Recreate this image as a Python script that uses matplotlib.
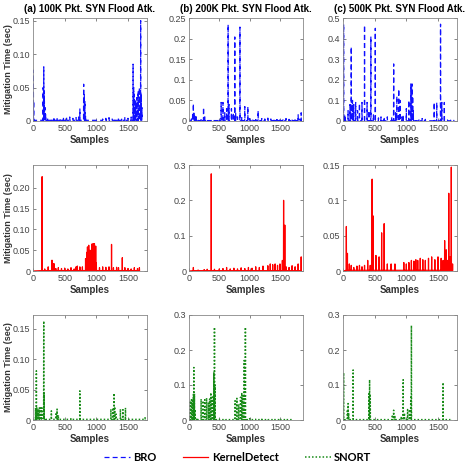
import numpy as np
import matplotlib
matplotlib.use("Agg")
import matplotlib.pyplot as plt
from matplotlib.ticker import FixedLocator

plt.rcParams['font.family'] = ['Liberation Sans', 'DejaVu Sans']

# ---- data: spike positions (samples) and heights (sec) ----
# row 1: BRO
bro_a_x = [5, 10, 160, 170, 175, 180, 190, 200, 230, 280, 330, 380, 430, 480, 530, 580, 630, 680, 720, 740,
           800, 810, 820, 830, 1100, 1150, 1200, 1250, 1300, 1350, 1400, 1450, 1500, 1550,
           1580, 1590, 1600, 1620, 1640, 1660, 1680, 1700, 1710, 1720]
bro_a_h = [0.076, 0.03, 0.05, 0.081, 0.045, 0.03, 0.02, 0.01, 0.005, 0.004, 0.006, 0.005, 0.004, 0.006, 0.005, 0.006, 0.004, 0.005, 0.006, 0.018,
           0.055, 0.04, 0.03, 0.008, 0.003, 0.004, 0.005, 0.003, 0.004, 0.005, 0.004, 0.005, 0.004, 0.006,
           0.085, 0.05, 0.04, 0.03, 0.035, 0.045, 0.05, 0.15, 0.04, 0.02]

bro_b_x = [40, 60, 72, 85, 100, 120, 150, 200, 240, 260, 300, 400, 500, 530, 560, 590, 620, 645, 660, 700, 730,
           755, 770, 800, 840, 870, 920, 970, 1000, 1050, 1100, 1140, 1200, 1250, 1300, 1350, 1400, 1450, 1500,
           1550, 1600, 1650, 1700, 1750, 1800, 1830, 1850]
bro_b_h = [0.005, 0.02, 0.042, 0.02, 0.015, 0.01, 0.005, 0.006, 0.033, 0.01, 0.004, 0.003, 0.005, 0.045, 0.045, 0.02, 0.03, 0.234, 0.04, 0.03, 0.02,
           0.204, 0.02, 0.01, 0.228, 0.01, 0.035, 0.035, 0.006, 0.005, 0.008, 0.025, 0.006, 0.005, 0.007, 0.005, 0.006, 0.008, 0.007,
           0.005, 0.006, 0.004, 0.005, 0.006, 0.015, 0.005, 0.02]

bro_c_x = [10, 30, 80, 110, 130, 150, 170, 200, 230, 260, 300, 340, 380, 410, 440, 480, 510, 560, 600, 650, 700, 770,
           800, 830, 850, 880, 900, 930, 950, 1000, 1040, 1070, 1090, 1100, 1110, 1150, 1200, 1250, 1300,
           1440, 1480, 1540, 1560, 1600, 1650, 1700, 1750]
bro_c_h = [0.47, 0.03, 0.05, 0.08, 0.36, 0.1, 0.08, 0.09, 0.05, 0.085, 0.09, 0.465, 0.09, 0.05, 0.41, 0.03, 0.45, 0.015, 0.02, 0.02, 0.02, 0.02,
           0.277, 0.04, 0.12, 0.155, 0.1, 0.02, 0.03, 0.06, 0.1, 0.18, 0.18, 0.12, 0.05, 0.01, 0.01, 0.012, 0.008,
           0.09, 0.09, 0.47, 0.09, 0.09, 0.005, 0.004, 0.003]

# row 2: KernelDetect
kd_a_x = [144, 185, 240, 300, 330, 360, 400, 450, 500, 550, 600, 650, 680, 700, 740, 780,
          830, 850, 860, 880, 900, 920, 930, 950, 970, 990, 1000, 1050, 1100, 1150, 1200,
          1240, 1270, 1320, 1350, 1410, 1450, 1500, 1550, 1600, 1650, 1680]
kd_a_h = [0.227, 0.005, 0.01, 0.026, 0.018, 0.006, 0.008, 0.006, 0.007, 0.005, 0.008, 0.005, 0.01, 0.012, 0.01, 0.01,
          0.03, 0.045, 0.058, 0.062, 0.05, 0.04, 0.065, 0.066, 0.066, 0.06, 0.02, 0.008, 0.01, 0.009, 0.01,
          0.064, 0.008, 0.009, 0.008, 0.032, 0.008, 0.006, 0.005, 0.008, 0.006, 0.008]

kd_b_x = [72, 150, 250, 300, 367, 420, 500, 560, 620, 680, 740, 800, 860, 920, 980, 1040, 1100, 1160, 1220,
          1300, 1340, 1380, 1420, 1460, 1500, 1540, 1560, 1570, 1580, 1600, 1650, 1700, 1750, 1800, 1850]
kd_b_h = [0.01, 0.003, 0.004, 0.005, 0.275, 0.005, 0.006, 0.007, 0.01, 0.006, 0.008, 0.006, 0.009, 0.007, 0.01, 0.008, 0.012, 0.01, 0.014,
          0.015, 0.02, 0.018, 0.02, 0.016, 0.02, 0.03, 0.2, 0.05, 0.13, 0.012, 0.01, 0.015, 0.012, 0.02, 0.04]

kd_c_x = [53, 70, 100, 130, 170, 220, 260, 300, 340, 390, 430, 460, 475, 520, 570, 610, 650, 700, 760, 820,
          960, 1000, 1040, 1080, 1120, 1150, 1180, 1220, 1260, 1300, 1350, 1400, 1450, 1500, 1550,
          1580, 1605, 1630, 1650, 1670, 1690, 1710, 1730]
kd_c_h = [0.063, 0.025, 0.01, 0.008, 0.005, 0.007, 0.008, 0.006, 0.008, 0.015, 0.008, 0.13, 0.078, 0.022, 0.02, 0.054, 0.067, 0.01, 0.01, 0.01,
          0.012, 0.01, 0.012, 0.015, 0.014, 0.016, 0.015, 0.018, 0.016, 0.015, 0.018, 0.02, 0.016, 0.02, 0.018,
          0.015, 0.043, 0.03, 0.015, 0.11, 0.02, 0.147, 0.01]

# row 3: SNORT
sn_a_x = [40, 53, 60, 80, 100, 120, 140, 170, 175, 200, 290, 360, 380, 400, 600,
          740, 1230, 1260, 1280, 1290, 1310, 1380, 1420, 1460, 1770]
sn_a_h = [0.02, 0.081, 0.02, 0.018, 0.02, 0.02, 0.02, 0.163, 0.045, 0.003, 0.015, 0.01, 0.018, 0.008, 0.002,
          0.048, 0.018, 0.02, 0.044, 0.022, 0.01, 0.018, 0.017, 0.02, 0.005]

sn_b_x = [20, 40, 60, 72, 80, 90, 100, 130, 200, 230, 260, 290, 320, 340, 360, 380, 400, 410, 420, 430, 500, 600,
          760, 790, 820, 850, 870, 890, 910, 930, 950, 1000, 1100, 1200, 1300, 1400, 1500, 1600, 1700]
sn_b_h = [0.055, 0.058, 0.06, 0.073, 0.15, 0.075, 0.03, 0.005, 0.06, 0.055, 0.058, 0.063, 0.05, 0.06, 0.078, 0.065, 0.07, 0.135, 0.265, 0.1, 0.002, 0.002,
          0.055, 0.062, 0.045, 0.065, 0.078, 0.07, 0.17, 0.265, 0.005, 0.004, 0.002, 0.002, 0.002, 0.002, 0.003, 0.002, 0.002]

sn_c_x = [10, 70, 80, 90, 160, 410, 420, 430, 780, 800, 820, 920, 950, 970, 1020, 1050, 1070, 1080, 1580, 1700]
sn_c_h = [0.135, 0.03, 0.047, 0.02, 0.143, 0.075, 0.115, 0.07, 0.015, 0.028, 0.01, 0.01, 0.115, 0.02, 0.03, 0.03, 0.065, 0.27, 0.107, 0.003]

titles = ["(a) 100K Pkt. SYN Flood Atk.", "(b) 200K Pkt. SYN Flood Atk.", "(c) 500K Pkt. SYN Flood Atk."]
series_names = ["BRO", "KernelDetect", "SNORT"]

data = [
    [(bro_a_x, bro_a_h), (bro_b_x, bro_b_h), (bro_c_x, bro_c_h)],
    [(kd_a_x, kd_a_h), (kd_b_x, kd_b_h), (kd_c_x, kd_c_h)],
    [(sn_a_x, sn_a_h), (sn_b_x, sn_b_h), (sn_c_x, sn_c_h)],
]

xmax = [1800, 1880, 1800]
ylims = [[0.154, 0.25, 0.5], [0.255, 0.3, 0.15], [0.173, 0.3, 0.3]]
yticks = [[[0, 0.05, 0.1, 0.15], [0, 0.05, 0.1, 0.15, 0.2, 0.25], [0, 0.1, 0.2, 0.3, 0.4, 0.5]],
          [[0, 0.05, 0.1, 0.15, 0.2], [0, 0.1, 0.2, 0.3], [0, 0.05, 0.1, 0.15]],
          [[0, 0.05, 0.1, 0.15], [0, 0.1, 0.2, 0.3], [0, 0.1, 0.2, 0.3]]]
ytick_labels = [[["0", "0.05", "0.10", "0.15"], ["0", "0.05", "0.1", "0.15", "0.2", "0.25"], ["0", "0.1", "0.2", "0.3", "0.4", "0.5"]],
                [["0", "0.05", "0.10", "0.15", "0.20"], ["0", "0.1", "0.2", "0.3"], ["0", "0.05", "0.1", "0.15"]],
                [["0", "0.05", "0.10", "0.15"], ["0", "0.1", "0.2", "0.3"], ["0", "0.1", "0.2", "0.3"]]]

styles = [dict(color='#1010ff', linestyle=(0, (4, 2.5)), linewidth=0.9),
          dict(color='#ff0000', linestyle='-', linewidth=0.9),
          dict(color='#168a16', linestyle=(0, (1, 1.3)), linewidth=1.1)]


def spike_line(xs, hs):
    # turn spike list into a polyline going up and back to zero at each sample
    px, py = [0], [0]
    for x, h in zip(xs, hs):
        px += [x - 2, x, x + 2]
        py += [0.001, h, 0.001]
    return px, py


W, H = 466, 473
fig = plt.figure(figsize=(W / 100, H / 100), dpi=100)

lefts = [33, 189, 343]
width = 114
tops = [18, 165, 315]
bottoms = [121, 271, 420]
grey = '#555555'

handles = []
for r in range(3):
    for c in range(3):
        ax = fig.add_axes([lefts[c] / W, 1 - bottoms[r] / H, width / W, (bottoms[r] - tops[r]) / H])
        xs, hs = data[r][c]
        px, py = spike_line(xs, hs)
        line, = ax.plot(px, py, label=series_names[r], **styles[r])
        if c == 0:
            handles.append(line)
        ax.set_xlim(0, xmax[c])
        ax.set_ylim(0, ylims[r][c])
        ax.xaxis.set_major_locator(FixedLocator([0, 500, 1000, 1500]))
        ax.set_xticklabels(["0", "500", "1000", "1500"])
        ax.yaxis.set_major_locator(FixedLocator(yticks[r][c]))
        ax.set_yticklabels(ytick_labels[r][c])
        ax.tick_params(direction='in', top=True, right=True, length=2.5, width=0.5,
                       labelsize=6.5, colors=grey, labelcolor='#444444', pad=2)
        for s in ax.spines.values():
            s.set_color('#888888')
            s.set_linewidth(0.6)
        ax.set_xlabel("Samples", fontsize=7, fontweight='bold', color='#333333', labelpad=1.5)
        if c == 0:
            ax.set_ylabel("Mitigation Time (sec)", fontsize=6.5, fontweight='bold', color='#333333')
            ax.yaxis.set_label_coords(-20 / width, 0.5)
        if r == 0:
            ax.set_title(titles[c], fontsize=7, fontweight='bold', pad=4)

fig.legend(handles=handles, labels=series_names, loc='lower center', bbox_to_anchor=(0.51, 0.0),
           ncol=3, frameon=False, handlelength=2.3, columnspacing=2.4, handletextpad=0.3,
           prop=dict(family='Lato', weight='bold', size=8))

fig.savefig("out.png", dpi=100)
